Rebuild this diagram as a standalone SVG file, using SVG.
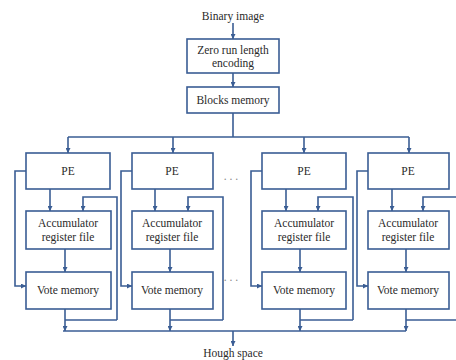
<svg xmlns="http://www.w3.org/2000/svg" width="456" height="360" viewBox="0 0 456 360">
<defs>
<marker id="ah" viewBox="0 0 10 10" refX="10" refY="5" markerWidth="5" markerHeight="5" orient="auto" markerUnits="userSpaceOnUse">
<path d="M0,0 L10,5 L0,10 z" fill="#3a5d94"/>
</marker>
</defs>
<style>
.box{fill:#fff;stroke:#3a5d94;stroke-width:1.6}
.ln{fill:none;stroke:#3a5d94;stroke-width:1.6}
.ar{fill:none;stroke:#3a5d94;stroke-width:1.6;marker-end:url(#ah)}
text{font-family:'Times New Roman','Liberation Serif','DejaVu Serif',serif;font-size:11.5px;fill:#2a2a2a;text-anchor:middle}
.dots{fill:#888}
</style>
<rect width="456" height="360" fill="#fff"/>
<text x="233" y="20">Binary image</text>
<text x="233" y="357">Hough space</text>
<text class="dots" x="231" y="180">. . .</text>
<text class="dots" x="231" y="281">. . .</text>
<g id="connectors">
<path class="ar" d="M233,23 V39"/>
<path class="ar" d="M233,73 V87"/>
<path class="ln" d="M233,113 V137 M68,137 H409"/>
<path class="ar" d="M68,137 V153"/>
<path class="ar" d="M173,137 V153"/>
<path class="ar" d="M304,137 V153"/>
<path class="ar" d="M409,137 V153"/>
<path class="ar" d="M50,189 V211"/>
<path class="ar" d="M117,320 V197 H83 V211"/>
<path class="ar" d="M65,249 V272"/>
<path class="ar" d="M26,171 H15 V286 H26"/>
<path class="ar" d="M65,309 V331"/>
<path class="ln" d="M65,320 H117"/>
<path class="ar" d="M155,189 V211"/>
<path class="ar" d="M223,320 V197 H188 V211"/>
<path class="ar" d="M170,249 V272"/>
<path class="ar" d="M132,171 H121 V286 H132"/>
<path class="ar" d="M170,309 V331"/>
<path class="ln" d="M170,320 H223"/>
<path class="ar" d="M286,189 V211"/>
<path class="ar" d="M353,320 V197 H318 V211"/>
<path class="ar" d="M300,249 V272"/>
<path class="ar" d="M262,171 H251 V286 H262"/>
<path class="ar" d="M300,309 V331"/>
<path class="ln" d="M300,320 H353"/>
<path class="ar" d="M392,189 V211"/>
<path class="ar" d="M457,197 H423 V211"/>
<path class="ar" d="M406,249 V272"/>
<path class="ar" d="M368,171 H357 V286 H368"/>
<path class="ar" d="M406,309 V331"/>
<path class="ln" d="M406,320 H457"/>
<path class="ln" d="M63,331 H406"/>
<path class="ar" d="M233,331 V346"/>
</g>
<g id="zrle"><rect class="box" x="187" y="39" width="92" height="34"/><text x="233" y="54">Zero run length</text><text x="233" y="67">encoding</text></g>
<g id="blocks"><rect class="box" x="187" y="87" width="92" height="26"/><text x="233" y="104">Blocks memory</text></g>
<g id="pe1"><rect class="box" x="26" y="153" width="84" height="36"/><text x="68" y="175">PE</text></g>
<g id="acc1"><rect class="box" x="26" y="211" width="85" height="38"/><text x="68" y="227">Accumulator</text><text x="68" y="241">register file</text></g>
<g id="vote1"><rect class="box" x="26" y="272" width="85" height="37"/><text x="68" y="294">Vote memory</text></g>
<g id="pe2"><rect class="box" x="132" y="153" width="81" height="36"/><text x="172" y="175">PE</text></g>
<g id="acc2"><rect class="box" x="132" y="211" width="81" height="38"/><text x="172" y="227">Accumulator</text><text x="172" y="241">register file</text></g>
<g id="vote2"><rect class="box" x="132" y="272" width="81" height="37"/><text x="172" y="294">Vote memory</text></g>
<g id="pe3"><rect class="box" x="262" y="153" width="84" height="36"/><text x="304" y="175">PE</text></g>
<g id="acc3"><rect class="box" x="262" y="211" width="84" height="38"/><text x="304" y="227">Accumulator</text><text x="304" y="241">register file</text></g>
<g id="vote3"><rect class="box" x="262" y="272" width="84" height="37"/><text x="304" y="294">Vote memory</text></g>
<g id="pe4"><rect class="box" x="368" y="153" width="81" height="36"/><text x="408" y="175">PE</text></g>
<g id="acc4"><rect class="box" x="368" y="211" width="81" height="38"/><text x="408" y="227">Accumulator</text><text x="408" y="241">register file</text></g>
<g id="vote4"><rect class="box" x="368" y="272" width="81" height="37"/><text x="408" y="294">Vote memory</text></g>
</svg>
